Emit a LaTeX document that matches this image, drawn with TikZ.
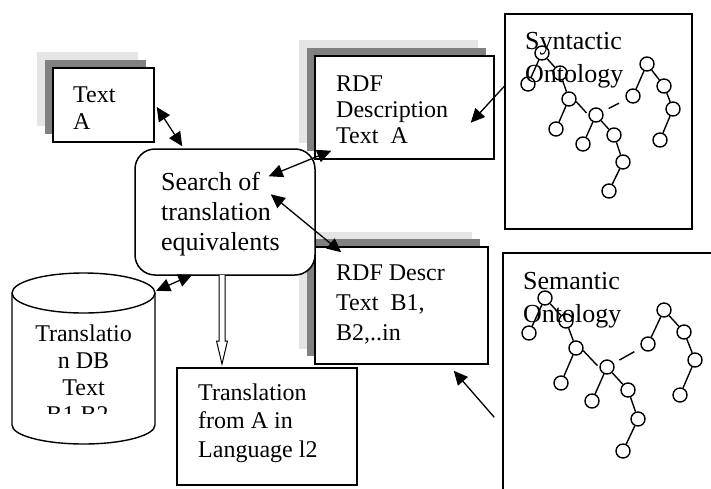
\documentclass[tikz,border=0pt]{standalone}
\usepackage{fontspec}
\setmainfont{Liberation Serif}
\usetikzlibrary{arrows.meta,calc}
\definecolor{shlight}{gray}{0.9}
\definecolor{shdark}{gray}{0.5}
\newcommand\mlines[1]{\begin{tabular}[t]{@{}l@{}}#1\end{tabular}}
\newcommand\clines[1]{\begin{tabular}[t]{@{}c@{}}#1\end{tabular}}
\tikzset{
  box/.style={draw, line width=1.5pt, fill=white, inner sep=0pt},
  ghost/.style={draw=none, inner sep=0pt},
  txt/.style={anchor=base west, inner sep=0pt},
  ctxt/.style={anchor=base, inner sep=0pt},
  fsA/.style={font=\fontsize{24}{27}\selectfont},
  conn/.style={line width=1.3pt, {Triangle[length=14pt,width=13pt]}-{Triangle[length=14pt,width=13pt]}},
  conn1/.style={line width=1.3pt, -{Triangle[length=14pt,width=13pt]}},
  tn/.style={circle, draw, line width=1.4pt, minimum size=14pt, inner sep=0pt},
  te/.style={line width=1.4pt},
}
\begin{document}
\begin{tikzpicture}[x=1pt,y=-1pt]
\useasboundingbox (0,0) rectangle (711,488);
\clip (0,0) rectangle (711,488);

% shadows and boxes
\fill[shlight] (37,52) rectangle ++(101,74);
\fill[shdark] (45,60) rectangle ++(101,74);
\node[box, minimum width=101pt, minimum height=74pt] (tA) at (103.5,105) {};

\fill[shlight] (299,40) rectangle ++(179,103);
\fill[shdark] (307,48) rectangle ++(179,103);
\node[box, minimum width=179pt, minimum height=103pt] (rdfA) at (404.5,107.5) {};

\fill[shlight] (299,232) rectangle ++(173,117);
\fill[shdark] (307,239) rectangle ++(173,117);
\node[box, minimum width=173pt, minimum height=117pt] (rdfB) at (401.5,305.5) {};

\node[box, rounded corners=20pt, minimum width=180pt, minimum height=126pt] (srch) at (225,212) {};

\node[box, minimum width=180pt, minimum height=117pt] (trans) at (267,426.5) {};

\node[draw, line width=1.4pt, inner sep=0pt, minimum width=187pt, minimum height=215pt] (syn) at (598.5,121.5) {};
\node[draw, line width=1.4pt, inner sep=0pt, minimum width=222pt, minimum height=247pt] (sem) at (614,376.5) {};

% database cylinder
\node[ghost, minimum width=143pt, minimum height=172pt] (db) at (83.5,359) {};
\draw[line width=1.4pt, fill=white] (12,293) -- (12,425) arc[start angle=180, end angle=0, x radius=71.5, y radius=19] -- (155,293);
\draw[line width=1.4pt, fill=white] (83.5,293) ellipse [x radius=71.5, y radius=20];

% texts
\node[txt, fsA] (tAt) at (73,102) {\mlines{Text\\A}};
\node[txt, font=\fontsize{24}{26}\selectfont] (rdfAt) at (336,91) {\mlines{RDF\\Description\\Text\ \ A}};
\node[txt, font=\fontsize{24}{30}\selectfont] (rdfBt) at (336,280) {\mlines{RDF Descr\\Text\ \ B1,\\B2,..in}};
\node[txt, font=\fontsize{26}{30}\selectfont] (srcht) at (161,190) {\mlines{Search of\\translation\\equivalents}};
\node[txt, font=\fontsize{24}{28.5}\selectfont] (transt) at (198,400) {\mlines{Translation\\from A in\\Language l2}};
\begin{scope}
  \clip (12,300) rectangle (155,413);
  \node[ctxt, fsA] (dbt) at (83.5,341) {\clines{Translatio\\n DB\\Text\\B1,B2..}};
\end{scope}

% hollow arrow
\draw[line width=1pt, fill=white] (219,275) -- (219,341) -- (216.5,341) -- (222,364) -- (227.5,341) -- (225,341) -- (225,275);

% syntactic tree
\foreach \n/\x/\y in {1/542/53,2/528/84,3/560/73,4/569/99,5/556/129,6/596/115,7/583/144,8/614/135,9/623/162,10/609/191,11/633/96,12/647/64,13/664/86,14/673/109,15/660/140}
  \node[tn] (s\n) at (\x,\y) {};
\foreach \a/\b in {1/2,1/3,3/4,4/5,6/7,6/8,8/9,9/10,11/12,12/13,13/14,14/15}
  \draw[te] (s\a) -- (s\b);
\draw[te] (s4.-20) -- ([xshift=-2pt]s6.165);
\draw[te, shorten <=6.5pt, shorten >=8pt] (s6) -- (s11);

% semantic tree
\foreach \n/\x/\y in {1/545/298,2/529/333,3/566/321,4/576/348,5/561/383,6/607/367,7/592/401,8/628/390,9/638/419,10/623/451,11/648/344,12/664/310,13/684/332,14/695/360,15/680/395}
  \node[tn] (m\n) at (\x,\y) {};
\foreach \a/\b in {1/2,1/3,3/4,4/5,6/7,6/8,8/9,9/10,11/12,12/13,13/14,14/15}
  \draw[te] (m\a) -- (m\b);
\draw[te] (m4.-20) -- ([xshift=-2pt]m6.170);
\draw[te, shorten <=6.5pt, shorten >=8pt] (m6) -- (m11);

\node[txt, font=\fontsize{26}{33}\selectfont] (synt) at (525,49) {\mlines{Syntactic\\Ontology}};
\node[txt, font=\fontsize{26}{33}\selectfont] (semt) at (523,289) {\mlines{Semantic\\Ontology}};

% connectors
\draw[conn] ([shift={(2,2)}]tA.east) -- ([shift={(48,-2)}]srch.north west);
\draw[conn] ([shift={(-47,28)}]srch.north east) -- ([shift={(17,-9)}]rdfA.south west);
\draw[conn] ([shift={(-45,46)}]srch.north east) -- ([shift={(27,6)}]rdfB.north west);
\draw[conn1] ([shift={(0,73)}]syn.north west) -- ([shift={(-24,-37)}]rdfA.south east);
\draw[conn1] ([shift={(-8,165)}]sem.north west) -- ([shift={(-35,6)}]rdfB.south east);
\draw[conn] ([shift={(1,18)}]db.north east) -- ([shift={(58,-1)}]srch.south west);
\end{tikzpicture}
\end{document}
